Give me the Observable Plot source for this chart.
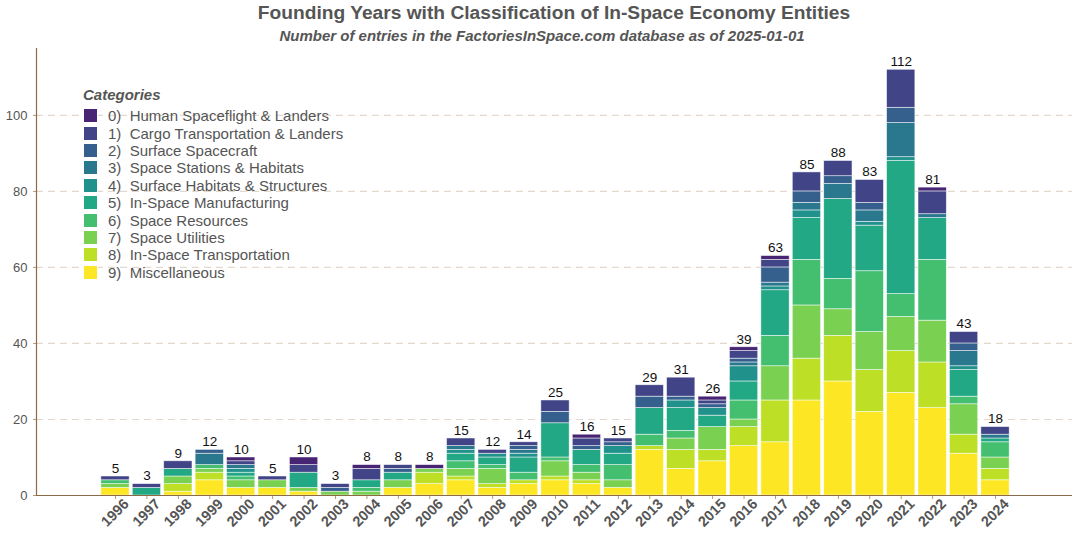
<!DOCTYPE html>
<html><head><meta charset="utf-8">
<script src="https://cdn.jsdelivr.net/npm/d3@7"></script>
<script src="https://cdn.jsdelivr.net/npm/@observablehq/plot@0.6"></script>
<style>
body{margin:0;background:#fff;font-family:"Liberation Sans",Arial,sans-serif;}
#wrap{position:relative;width:1080px;height:540px;overflow:hidden;}
#chart{position:absolute;left:0;top:0;}
#title{position:absolute;top:2px;left:0;width:1108px;text-align:center;font-size:19.2px;font-weight:bold;color:#555;}
#subtitle{position:absolute;top:27px;left:0;width:1084px;text-align:center;font-size:15px;font-weight:bold;font-style:italic;color:#555;}
#legend{position:absolute;left:83px;top:86px;font-size:15px;color:#555;}
#legend .head{font-weight:bold;font-style:italic;margin-bottom:4px;}
#legend .row{display:flex;align-items:center;height:17.4px;white-space:pre;}
#legend .sw{width:15px;height:15px;margin-right:10px;box-sizing:border-box;border:1px solid #fff;}
</style></head>
<body><div id="wrap">
<div id="chart"></div>
<div id="title">Founding Years with Classification of In-Space Economy Entities</div>
<div id="subtitle">Number of entries in the FactoriesInSpace.com database as of 2025-01-01</div>
<div id="legend"></div>
</div>
<script>
const years = ["1996","1997","1998","1999","2000","2001","2002","2003","2004","2005","2006","2007","2008","2009","2010","2011","2012","2013","2014","2015","2016","2017","2018","2019","2020","2021","2022","2023","2024"];
const categories = ["0) Human Spaceflight & Landers","1) Cargo Transportation & Landers","2) Surface Spacecraft","3) Space Stations & Habitats","4) Surface Habitats & Structures","5) In-Space Manufacturing","6) Space Resources","7) Space Utilities","8) In-Space Transportation","9) Miscellaneous"];
//              96 97 98 99 00 01 02 03 04 05 06 07 08 09 10 11 12 13 14 15 16 17 18 19 20 21 22 23 24
const cat0 = [0, 0, 0, 0, 1, 0, 2, 0, 1, 0, 1, 0, 0, 0, 0, 1, 0, 0, 0, 1, 1, 1, 0, 0, 0, 0, 1, 0, 0];
const cat1 = [1, 1, 2, 0, 1, 1, 2, 1, 3, 1, 0, 2, 1, 1, 3, 2, 1, 3, 5, 1, 2, 2, 5, 4, 6,10, 6, 3, 2];
const cat2 = [0, 0, 0, 1, 0, 0, 0, 1, 0, 1, 0, 0, 0, 1, 3, 1, 1, 3, 1, 1, 1, 4, 3, 2, 2, 4, 0, 2, 0];
const cat3 = [0, 0, 0, 3, 1, 0, 0, 0, 0, 0, 0, 1, 0, 1, 0, 0, 0, 0, 0, 0, 1, 1, 2, 4, 3, 9, 1, 4, 1];
const cat4 = [0, 0, 0, 0, 1, 0, 0, 0, 0, 0, 0, 1, 1, 1, 0, 0, 2, 0, 2, 2, 4, 1, 2, 0, 1, 1, 0, 1, 0];
const cat5 = [0, 2, 2, 0, 1, 0, 4, 0, 2, 2, 0, 2, 2, 4, 9, 4, 3, 7, 6, 3, 5,12,11,21,12,35,11, 7, 1];
const cat6 = [1, 0, 0, 1, 1, 0, 0, 0, 1, 0, 0, 2, 1, 2, 1, 2, 4, 3, 2, 0, 5, 8,12, 8,16, 6,16, 2, 4];
const cat7 = [1, 0, 2, 1, 2, 2, 1, 1, 1, 2, 1, 2, 4, 0, 4, 2, 2, 0, 3, 6, 2, 9,14, 7,10, 9,11, 8, 3];
const cat8 = [0, 0, 2, 2, 0, 0, 0, 0, 0, 0, 3, 1, 1, 1, 1, 1, 0, 1, 5, 3, 5,11,11,12,11,11,12, 5, 3];
const cat9 = [2, 0, 1, 4, 2, 2, 1, 0, 0, 2, 3, 4, 2, 3, 4, 3, 2,12, 7, 9,13,14,25,30,22,27,23,11, 4];
const series = [cat0,cat1,cat2,cat3,cat4,cat5,cat6,cat7,cat8,cat9];
const yTicks = [0,20,40,60,80,100];

const colors = categories.map((_, i) => d3.interpolateViridis(0.1 * (i + 1)));
const rows = [];
for (let c = 9; c >= 0; c--) {
  years.forEach((yr, i) => { if (series[c][i] > 0) rows.push({year: yr, category: categories[c], value: series[c][i]}); });
}
const stackOrder = categories.slice().reverse();

const chart = Plot.plot({
  width: 1080, height: 540,
  marginTop: 48, marginBottom: 45, marginLeft: 36, marginRight: 8,
  style: {fontFamily: "Liberation Sans, Arial, sans-serif", background: "transparent", overflow: "visible"},
  x: {domain: years, range: [97.7, 1012.3], padding: 0.1, round: false, label: null},
  y: {domain: [0, 117.6], label: null},
  color: {domain: categories, range: colors},
  marks: [
    Plot.gridY(yTicks.filter(d => d > 0), {stroke: "#e2d8cc", strokeOpacity: 1, strokeDasharray: "7,5", strokeWidth: 1.2}),
    Plot.barY(rows, {x: "year", y: "value", fill: "category", order: stackOrder, stroke: "white", strokeWidth: 0.7, strokeOpacity: 0.7}),
    Plot.text(rows, Plot.groupX({y: "sum", text: "sum"}, {x: "year", y: "value", text: "value", dy: -8, fontSize: 13.5, fill: "#111"})),
    Plot.axisX({tickRotate: -45, fontSize: 14.5, fontWeight: "bold", fill: "#555", stroke: "#b59a7a", tickSize: 4, label: null, text: null}),
    Plot.axisX({tickRotate: -45, fontSize: 14.5, fontWeight: "bold", fill: "#555", tickSize: 0, tickPadding: 6, dx: 11, label: null}),
    Plot.axisY({ticks: yTicks, tickSize: 3, stroke: "#b59a7a", fontSize: 13, fill: "#555", label: null}),
    Plot.ruleY([0], {stroke: "#8b6a45", strokeWidth: 1.2}),
    Plot.frame({anchor: "left", stroke: "#8b6a45", strokeWidth: 1.2})
  ]
});
document.getElementById("chart").appendChild(chart);

const leg = document.getElementById("legend");
const head = document.createElement("div"); head.className = "head"; head.textContent = "Categories"; leg.appendChild(head);
categories.forEach((c, i) => {
  const r = document.createElement("div"); r.className = "row";
  const s = document.createElement("div"); s.className = "sw"; s.style.background = colors[i];
  const t = document.createElement("span"); t.textContent = c.replace(") ", ")  ");
  r.appendChild(s); r.appendChild(t); leg.appendChild(r);
});
</script>
</body></html>
